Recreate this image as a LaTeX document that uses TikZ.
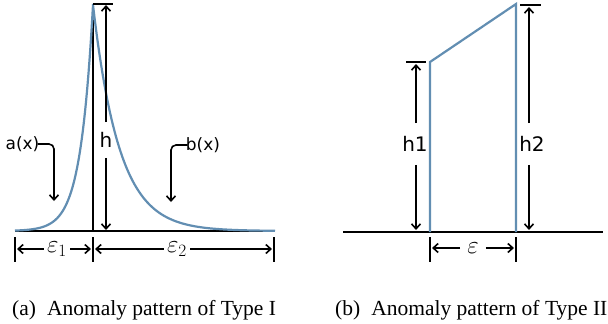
\documentclass[tikz,border=0pt]{standalone}
\usepackage{fontspec}
\usetikzlibrary{arrows.meta}
\newfontfamily\labfont{DejaVu Sans}
\newfontfamily\capfont{Liberation Serif}
\definecolor{curveblue}{RGB}{98,142,178}
\tikzset{
  arr/.style={line width=1.6pt,-{Straight Barb[length=5pt,width=9pt,line width=1.6pt]}},
  tickline/.style={line width=2.2pt},
  baseln/.style={line width=2.2pt},
  bar/.style={line width=2.2pt},
  bluecurve/.style={curveblue,line width=2.2pt},
  lab/.style={font=\labfont\fontsize{17}{20}\selectfont, inner sep=0pt},
  hlab/.style={font=\labfont\fontsize{20}{24}\selectfont, inner xsep=0pt},
  eps/.style={font=\fontsize{23}{27}\selectfont, fill=white, inner xsep=3pt, inner ysep=0pt},
  captext/.style={font=\capfont\fontsize{21.5}{24}\selectfont, anchor=base west, inner sep=0pt},
}
\begin{document}
\begin{tikzpicture}[x=1pt,y=-1pt]
\useasboundingbox (0,0) rectangle (608,324);
% ---------------- left panel ----------------
\coordinate (bL) at (15,231);
\coordinate (bR) at (275,231);
\coordinate (peakB) at (93,231);
\coordinate (peakT) at (93,5);
\draw[baseln] (bL) -- (bR);
\draw[baseln] (peakT) -- (peakB);
\draw[bluecurve] plot[domain=15:93,samples=90] (\x,{231-226*exp(-0.08*(93-\x))})
  -- plot[domain=93:275,samples=120] (\x,{231-226*exp(-0.038*(\x-93))});
% h dimension
\coordinate (hbarL) at (93,4);
\coordinate (hbarR) at (113,4);
\draw[bar] (hbarL) -- (hbarR);
\node[hlab, inner ysep=10pt] (h) at (106,140) {h};
\coordinate (htop) at (106,5);
\coordinate (hbot) at (106,230);
\draw[arr] (h) -- (htop);
\draw[arr] (h) -- (hbot);
% a(x), b(x)
\node[lab] (ax) at (22.5,144) {a(x)};
\coordinate (axend) at (54,201);
\draw[arr, rounded corners=5pt] (ax.east) -- ++(3,0) -| (axend);
\node[lab] (bx) at (203,145) {b(x)};
\coordinate (bxend) at (171,202);
\draw[arr, rounded corners=5pt] (bx.west) -- ++(-3,0) -| (bxend);
% epsilon ticks
\coordinate (t1a) at (15,237);  \coordinate (t1b) at (15,262);
\coordinate (t2a) at (93,237);  \coordinate (t2b) at (93,262);
\coordinate (t3a) at (274,237); \coordinate (t3b) at (274,262);
\draw[tickline] (t1a) -- (t1b);
\draw[tickline] (t2a) -- (t2b);
\draw[tickline] (t3a) -- (t3b);
\node[eps] (e1) at (57,249) {$\varepsilon_1$};
\coordinate (e1l) at (17,249);
\coordinate (e1r) at (91,249);
\draw[arr] (e1) -- (e1l);
\draw[arr] (e1) -- (e1r);
\node[eps] (e2) at (177,249) {$\varepsilon_2$};
\coordinate (e2l) at (95,249);
\coordinate (e2r) at (272,249);
\draw[arr] (e2) -- (e2l);
\draw[arr] (e2) -- (e2r);
% ---------------- right panel ----------------
\coordinate (rbL) at (343,232);
\coordinate (rbR) at (603,232);
\draw[baseln] (rbL) -- (rbR);
\coordinate (p1b) at (430,232);
\coordinate (p1t) at (430,62);
\coordinate (p2t) at (516,4);
\coordinate (p2b) at (516,232);
\draw[bluecurve] (p1b) -- (p1t) -- (p2t) -- (p2b);
% h1
\coordinate (h1barL) at (406,62);
\coordinate (h1barR) at (426,62);
\draw[bar] (h1barL) -- (h1barR);
\node[hlab, inner ysep=13pt] (h1) at (415,144) {h1};
\coordinate (h1top) at (416,64);
\coordinate (h1bot) at (416,230);
\draw[arr] (h1.north -| h1top) -- (h1top);
\draw[arr] (h1.south -| h1bot) -- (h1bot);
% h2
\coordinate (h2barL) at (520,5);
\coordinate (h2barR) at (541,5);
\draw[bar] (h2barL) -- (h2barR);
\node[hlab, inner ysep=13pt] (h2) at (532,144) {h2};
\coordinate (h2top) at (529,7);
\coordinate (h2bot) at (529,230);
\draw[arr] (h2.north -| h2top) -- (h2top);
\draw[arr] (h2.south -| h2bot) -- (h2bot);
% epsilon
\coordinate (t4a) at (430,237); \coordinate (t4b) at (430,262);
\coordinate (t5a) at (516,237); \coordinate (t5b) at (516,262);
\draw[tickline] (t4a) -- (t4b);
\draw[tickline] (t5a) -- (t5b);
\node[eps, inner xsep=7pt] (e3) at (473,248) {$\varepsilon$};
\coordinate (e3l) at (432,248);
\coordinate (e3r) at (514,248);
\draw[arr] (e3) -- (e3l);
\draw[arr] (e3) -- (e3r);
% captions
\node[captext] (capa) at (12,315) {(a)\hspace{11pt}Anomaly pattern of Type I};
\node[captext] (capb) at (335,315) {(b)\hspace{11pt}Anomaly pattern of Type II};
\end{tikzpicture}
\end{document}
